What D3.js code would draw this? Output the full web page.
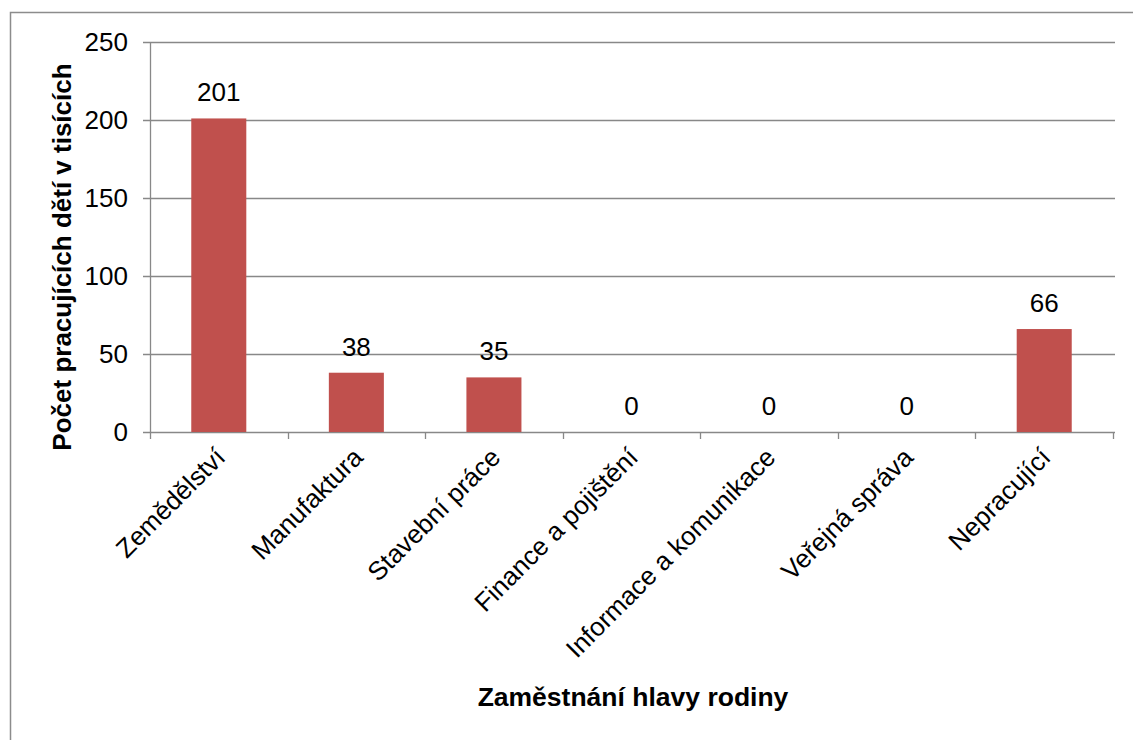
<!DOCTYPE html>
<html>
<head>
<meta charset="utf-8">
<script src="https://cdn.jsdelivr.net/npm/d3@7"></script>
<style>
  body { margin: 0; background: #fff; }
  svg text { font-family: "Liberation Sans", Arial, sans-serif; fill: #000; }
</style>
</head>
<body>
<div id="chart"></div>
<script>
// data
const categories = ["Zemědělství", "Manufaktura", "Stavební práce", "Finance a pojištění",
  "Informace a komunikace", "Veřejná správa", "Nepracující"];
const values = [201, 38, 35, 0, 0, 0, 66];
const yTicks = [0, 50, 100, 150, 200, 250];

const width = 1133, height = 740;
const margin = {top: 42, right: 20, bottom: 308, left: 150};
const fs = "26px";

const svg = d3.select("#chart").append("svg")
  .attr("width", width)
  .attr("height", height);

// outer chart frame (runs off the picture at right and bottom)
svg.append("rect")
  .attr("x", 10.5).attr("y", 12.5)
  .attr("width", width + 20).attr("height", height + 20)
  .attr("fill", "none")
  .attr("stroke", "#8c8c8c")
  .attr("stroke-width", 1.5);

//////////
// AXES //
//////////

const x = d3.scaleBand()
  .domain(categories)
  .range([margin.left, 1113])
  .paddingInner(0.6)
  .paddingOuter(0.3);

const y = d3.scaleLinear()
  .domain([0, 250])
  .range([432, margin.top]);

// gridlines
svg.append("g")
  .selectAll("line")
  .data(yTicks)
  .enter().append("line")
  .attr("x1", margin.left - 7)
  .attr("x2", 1115)
  .attr("y1", d => Math.round(y(d)) + 0.5)
  .attr("y2", d => Math.round(y(d)) + 0.5)
  .attr("stroke", "#888")
  .attr("stroke-width", 1.3);

// y axis line
svg.append("line")
  .attr("x1", margin.left + 0.5).attr("x2", margin.left + 0.5)
  .attr("y1", margin.top).attr("y2", 432)
  .attr("stroke", "#888")
  .attr("stroke-width", 1.3);

// y tick labels
svg.append("g")
  .selectAll("text")
  .data(yTicks)
  .enter().append("text")
  .attr("x", 128)
  .attr("y", d => y(d))
  .attr("dy", "0.36em")
  .attr("text-anchor", "end")
  .style("font-size", fs)
  .text(d => d);

// x tick marks at band boundaries
const xBounds = d3.range(categories.length + 1).map(i => margin.left + i * (1113 - margin.left) / categories.length);
svg.append("g")
  .selectAll("line")
  .data(xBounds)
  .enter().append("line")
  .attr("x1", d => Math.round(d) + 0.5)
  .attr("x2", d => Math.round(d) + 0.5)
  .attr("y1", 432)
  .attr("y2", 439)
  .attr("stroke", "#888")
  .attr("stroke-width", 1.3);

// rotated category labels
svg.append("g")
  .selectAll("text")
  .data(categories)
  .enter().append("text")
  .attr("text-anchor", "end")
  .attr("transform", d => {
    const cx = x(d) + x.bandwidth() / 2 + 8;
    return "translate(" + cx + ",459) rotate(-45)";
  })
  .style("font-size", fs)
  .text(d => d);

//////////
// BARS //
//////////

svg.append("g")
  .selectAll("rect")
  .data(values)
  .enter().append("rect")
  .attr("x", (d, i) => x(categories[i]))
  .attr("y", d => y(d))
  .attr("width", x.bandwidth())
  .attr("height", d => y(0) - y(d))
  .attr("fill", "#c0504d");

// value labels
svg.append("g")
  .selectAll("text")
  .data(values)
  .enter().append("text")
  .attr("x", (d, i) => x(categories[i]) + x.bandwidth() / 2)
  .attr("y", d => y(d) - 17)
  .attr("text-anchor", "middle")
  .style("font-size", fs)
  .text(d => d);

/////////////////
// AXIS TITLES //
/////////////////

svg.append("text")
  .attr("x", 633)
  .attr("y", 706)
  .attr("text-anchor", "middle")
  .style("font-size", "26.5px")
  .style("font-weight", "bold")
  .text("Zaměstnání hlavy rodiny");

svg.append("text")
  .attr("transform", "translate(71,257) rotate(-90)")
  .attr("text-anchor", "middle")
  .style("font-size", "26px")
  .style("font-weight", "bold")
  .text("Počet pracujících dětí v tisících");
</script>
</body>
</html>
